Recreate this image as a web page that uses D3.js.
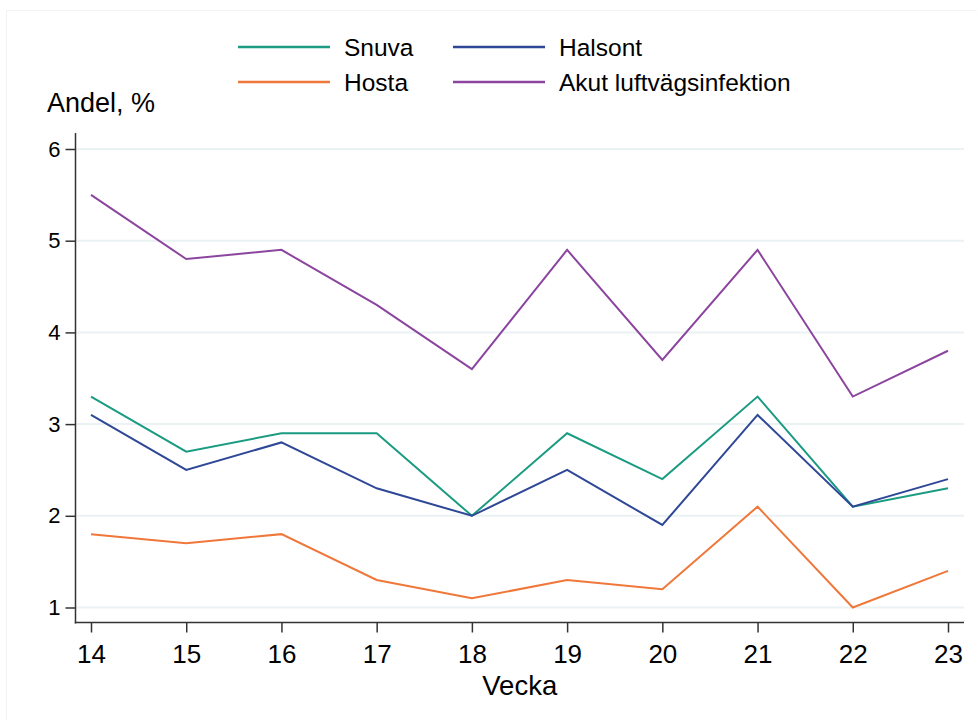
<!DOCTYPE html>
<html>
<head>
<meta charset="utf-8">
<script src="https://cdn.jsdelivr.net/npm/d3@7"></script>
<style>
  body { margin: 0; background: #fff; }
  text { font-family: "Liberation Sans", Arial, sans-serif; fill: #000; }
</style>
</head>
<body>
<svg id="chart" width="977" height="720"></svg>
<script>
// weeks on the x axis
const weeks = [14, 15, 16, 17, 18, 19, 20, 21, 22, 23];
const yTicks = [1, 2, 3, 4, 5, 6];

// share (%) per symptom
const snuva = [3.3, 2.7, 2.9, 2.9, 2.0, 2.9, 2.4, 3.3, 2.1, 2.3];
const halsont = [3.1, 2.5, 2.8, 2.3, 2.0, 2.5, 1.9, 3.1, 2.1, 2.4];
const hosta = [1.8, 1.7, 1.8, 1.3, 1.1, 1.3, 1.2, 2.1, 1.0, 1.4];
const akut = [5.5, 4.8, 4.9, 4.3, 3.6, 4.9, 3.7, 4.9, 3.3, 3.8];

const seriesNames = ["Snuva", "Halsont", "Hosta", "Akut luftvägsinfektion"];
const seriesColors = ["#1a9b82", "#2e4796", "#f0773a", "#8c459e"];
const seriesValues = [snuva, halsont, hosta, akut];

const svg = d3.select("#chart");

// faint outer frame
svg.append("rect")
  .attr("x", 6.5).attr("y", 10.5)
  .attr("width", 1000).attr("height", 800)
  .attr("fill", "none")
  .attr("stroke", "#f3f3f3");

const x = d3.scaleLinear().domain([14, 23]).range([91, 948]);
const y = d3.scaleLinear().domain([1, 6]).range([607.5, 149]);

const plotLeft = 75.5, plotRight = 964, axisY = 622.5, axisTop = 133;

// gridlines
svg.append("g")
  .selectAll("line")
  .data(yTicks)
  .join("line")
  .attr("x1", plotLeft + 1).attr("x2", plotRight)
  .attr("y1", d => y(d)).attr("y2", d => y(d))
  .attr("stroke", "#eaf2f3")
  .attr("stroke-width", 2);

// series lines
const line = d3.line()
  .x((d, i) => x(weeks[i]))
  .y(d => y(d));

svg.append("g")
  .selectAll("path")
  .data(seriesValues)
  .join("path")
  .attr("d", d => line(d))
  .attr("fill", "none")
  .attr("stroke", (d, i) => seriesColors[i])
  .attr("stroke-width", 2)
  .attr("stroke-linejoin", "miter");

// y axis
const yAxis = svg.append("g")
  .attr("transform", `translate(${plotLeft},0)`)
  .call(d3.axisLeft(y).tickValues(yTicks).tickSize(10).tickPadding(5).tickFormat(d3.format("d")));
yAxis.select(".domain").remove();
yAxis.append("line")
  .attr("y1", axisTop).attr("y2", axisY + 1)
  .attr("stroke", "#333").attr("stroke-width", 1.5);
yAxis.selectAll(".tick line").attr("stroke", "#333").attr("stroke-width", 1.5);
yAxis.selectAll(".tick text")
  .style("font-size", "22px")
  .style("font-family", "'Liberation Sans', Arial, sans-serif")
  .attr("fill", "#000");

// x axis
const xAxis = svg.append("g")
  .attr("transform", `translate(0,${axisY})`)
  .call(d3.axisBottom(x).tickValues(weeks).tickSize(10).tickPadding(12).tickFormat(d3.format("d")));
xAxis.select(".domain").remove();
xAxis.append("line")
  .attr("x1", plotLeft - 0.75).attr("x2", plotRight)
  .attr("stroke", "#333").attr("stroke-width", 1.5);
xAxis.selectAll(".tick line").attr("stroke", "#333").attr("stroke-width", 1.5);
xAxis.selectAll(".tick text")
  .style("font-size", "26px")
  .style("font-family", "'Liberation Sans', Arial, sans-serif")
  .attr("fill", "#000");

// axis titles
svg.append("text")
  .attr("x", (plotLeft + plotRight) / 2)
  .attr("y", 695)
  .attr("text-anchor", "middle")
  .style("font-size", "27.5px")
  .text("Vecka");

svg.append("text")
  .attr("x", 47)
  .attr("y", 112)
  .style("font-size", "27px")
  .text("Andel, %");

// legend: two columns, two rows
const legendX = [238, 453];
const legendY = [47, 82];
const legendOrder = [0, 1, 2, 3]; // Snuva, Halsont / Hosta, Akut
const legend = svg.append("g")
  .selectAll("g")
  .data(legendOrder)
  .join("g")
  .attr("transform", (d, i) => `translate(${legendX[i % 2]},${legendY[Math.floor(i / 2)]})`);

legend.append("line")
  .attr("x1", 0).attr("x2", 92)
  .attr("stroke", d => seriesColors[d])
  .attr("stroke-width", 2.5);

legend.append("text")
  .attr("x", 106)
  .attr("y", 9)
  .style("font-size", "24.5px")
  .text(d => seriesNames[d]);
</script>
</body>
</html>
